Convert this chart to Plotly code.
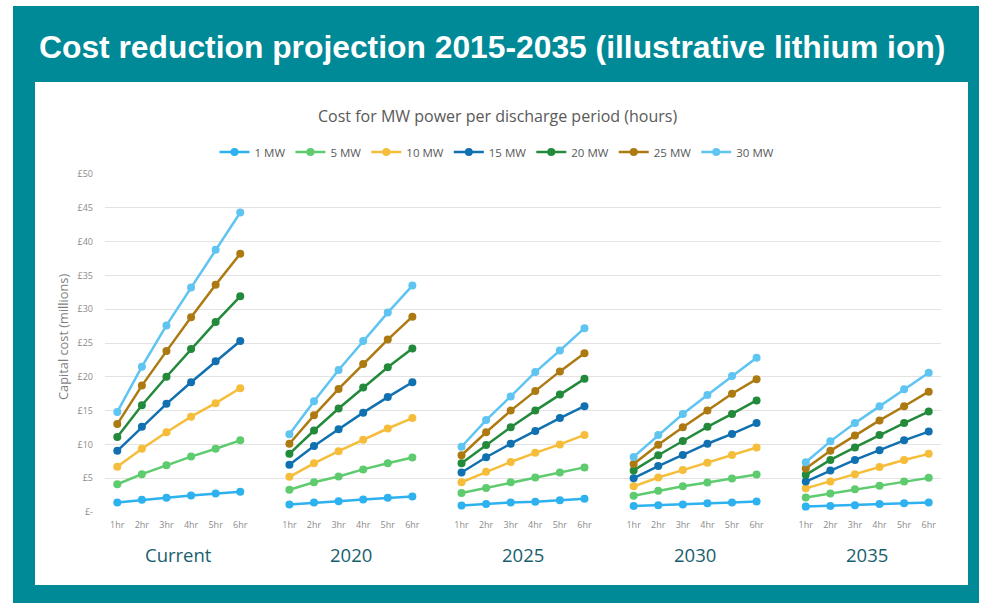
import plotly.graph_objects as go

groups = ["Current", "2020", "2025", "2030", "2035"]
hours = ["1hr", "2hr", "3hr", "4hr", "5hr", "6hr"]
series_names = ["1 MW", "5 MW", "10 MW", "15 MW", "20 MW", "25 MW", "30 MW"]

# values per series: 5 groups x 6 hours
mw1 = [[1.4, 1.8, 2.1, 2.45, 2.75, 3.0],
       [1.1, 1.4, 1.6, 1.85, 2.1, 2.3],
       [0.95, 1.2, 1.4, 1.5, 1.75, 1.95],
       [0.9, 1.0, 1.1, 1.3, 1.4, 1.55],
       [0.8, 0.9, 1.0, 1.2, 1.3, 1.4]]
mw5 = [[4.1, 5.6, 6.9, 8.2, 9.35, 10.6],
       [3.3, 4.4, 5.25, 6.3, 7.2, 8.05],
       [2.8, 3.55, 4.4, 5.1, 5.85, 6.6],
       [2.4, 3.15, 3.8, 4.35, 4.95, 5.55],
       [2.15, 2.75, 3.35, 3.9, 4.5, 5.05]]
mw10 = [[6.7, 9.35, 11.8, 14.1, 16.1, 18.3],
        [5.2, 7.2, 9.0, 10.7, 12.35, 13.9],
        [4.4, 5.95, 7.4, 8.75, 10.0, 11.4],
        [3.8, 5.1, 6.2, 7.3, 8.45, 9.55],
        [3.5, 4.5, 5.6, 6.65, 7.7, 8.6]]
mw15 = [[9.05, 12.6, 16.0, 19.2, 22.3, 25.3],
        [7.0, 9.75, 12.25, 14.7, 17.0, 19.2],
        [5.85, 8.1, 10.1, 12.0, 13.9, 15.65],
        [5.0, 6.8, 8.45, 10.1, 11.55, 13.15],
        [4.5, 6.15, 7.7, 9.15, 10.6, 11.9]]
mw20 = [[11.1, 15.8, 20.0, 24.1, 28.1, 31.9],
        [8.6, 12.05, 15.3, 18.4, 21.4, 24.2],
        [7.2, 9.9, 12.55, 15.0, 17.4, 19.7],
        [6.15, 8.4, 10.5, 12.6, 14.5, 16.5],
        [5.5, 7.7, 9.55, 11.4, 13.15, 14.85]]
mw25 = [[13.0, 18.7, 23.8, 28.8, 33.6, 38.2],
        [10.1, 14.3, 18.2, 21.9, 25.5, 28.9],
        [8.4, 11.8, 15.0, 17.9, 20.8, 23.5],
        [7.1, 9.95, 12.55, 15.0, 17.5, 19.65],
        [6.45, 9.05, 11.3, 13.55, 15.65, 17.8]]
mw30 = [[14.8, 21.5, 27.6, 33.2, 38.8, 44.3],
        [11.5, 16.4, 21.0, 25.3, 29.5, 33.5],
        [9.65, 13.6, 17.1, 20.7, 23.9, 27.2],
        [8.15, 11.4, 14.5, 17.3, 20.1, 22.8],
        [7.35, 10.45, 13.15, 15.65, 18.15, 20.6]]

y_tick_vals = [0, 5, 10, 15, 20, 25, 30, 35, 40, 45, 50]
y_tick_text = ["£-", "£5", "£10", "£15", "£20", "£25", "£30", "£35", "£40", "£45", "£50"]

colors = ["#2DB1EF", "#5DCB6E", "#F5BD3A", "#1170B0", "#238A3B", "#AD7A12", "#5EC4F1"]
all_series = [mw1, mw5, mw10, mw15, mw20, mw25, mw30]

slot = len(hours) + 1  # one empty slot between groups

fig = go.Figure()
for name, col, data in zip(series_names, colors, all_series):
    xs, ys = [], []
    for gi, vals in enumerate(data):
        for hi, v in enumerate(vals):
            xs.append(gi * slot + hi)
            ys.append(v)
        xs.append(gi * slot + len(hours))
        ys.append(None)
    fig.add_trace(go.Scatter(x=xs, y=ys, name=name, mode="lines+markers",
                             line=dict(color=col, width=2.5),
                             marker=dict(color=col, size=8),
                             connectgaps=False))

tickvals = [gi * slot + hi for gi in range(len(groups)) for hi in range(len(hours))]
ticktext = [h for _ in groups for h in hours]

L, R, T, B = 105, 50, 174, 91
W, H = 991, 603
pw, ph = W - L - R, H - T - B

def px(x):
    return (x - L) / pw

def py(y):
    return (H - B - y) / ph

shapes = [
    dict(type="rect", xref="paper", yref="paper", x0=px(13), x1=px(979), y0=py(6), y1=py(640),
         fillcolor="#008996", line=dict(width=0), layer="below"),
    dict(type="rect", xref="paper", yref="paper", x0=px(35), x1=px(968), y0=py(82), y1=py(585),
         fillcolor="white", line=dict(width=0), layer="below"),
]

annotations = [
    dict(text="<b>Cost reduction projection 2015-2035 (illustrative lithium ion)</b>",
         xref="paper", yref="paper", x=px(37), y=py(47), xanchor="left", yanchor="middle",
         showarrow=False, font=dict(family="Liberation Sans, Arial", size=31.8, color="white")),
    dict(text="Cost for MW power per discharge period (hours)",
         xref="paper", yref="paper", x=px(497), y=py(116), xanchor="center", yanchor="middle",
         showarrow=False, font=dict(family="Open Sans", size=16, color="#595959")),
    dict(text="Capital cost (millions)", textangle=-90,
         xref="paper", yref="paper", x=px(63), y=py(337), xanchor="center", yanchor="middle",
         showarrow=False, font=dict(family="Open Sans", size=12.8, color="#7f7f7f")),
]
for gi, g in enumerate(groups):
    annotations.append(dict(text=g, xref="x", yref="paper", x=gi * slot + (len(hours) - 1) / 2,
                            y=py(554), xanchor="center", yanchor="middle", showarrow=False,
                            font=dict(family="Open Sans", size=18.5, color="#17606D")))

fig.update_layout(
    width=W, height=H,
    margin=dict(l=L, r=R, t=T, b=B),
    paper_bgcolor="white", plot_bgcolor="rgba(0,0,0,0)",
    shapes=shapes, annotations=annotations,
    showlegend=True,
    legend=dict(orientation="h", x=px(497), xanchor="center", y=py(152), yanchor="middle",
                font=dict(family="Open Sans", size=11.5, color="#595959"),
                bgcolor="rgba(0,0,0,0)", itemwidth=30, tracegroupgap=0),
    xaxis=dict(range=[-0.5, len(groups) * slot - 1.5], tickvals=tickvals, ticktext=ticktext,
               showgrid=False, zeroline=False, showline=False, ticks="",
               ticklabelstandoff=6,
               tickfont=dict(family="Open Sans", size=9, color="#8c8c8c")),
    yaxis=dict(range=[0, 50], tickvals=y_tick_vals, ticktext=y_tick_text,
               showgrid=True, gridcolor="#e3e3e3", gridwidth=1, zeroline=False,
               ticks="", ticklabelstandoff=11,
               tickfont=dict(family="Open Sans", size=9, color="#8c8c8c")),
)

fig.write_html("out.html", config={"displayModeBar": False},
               post_script="document.body.style.margin='0';document.body.style.overflow='hidden';")
